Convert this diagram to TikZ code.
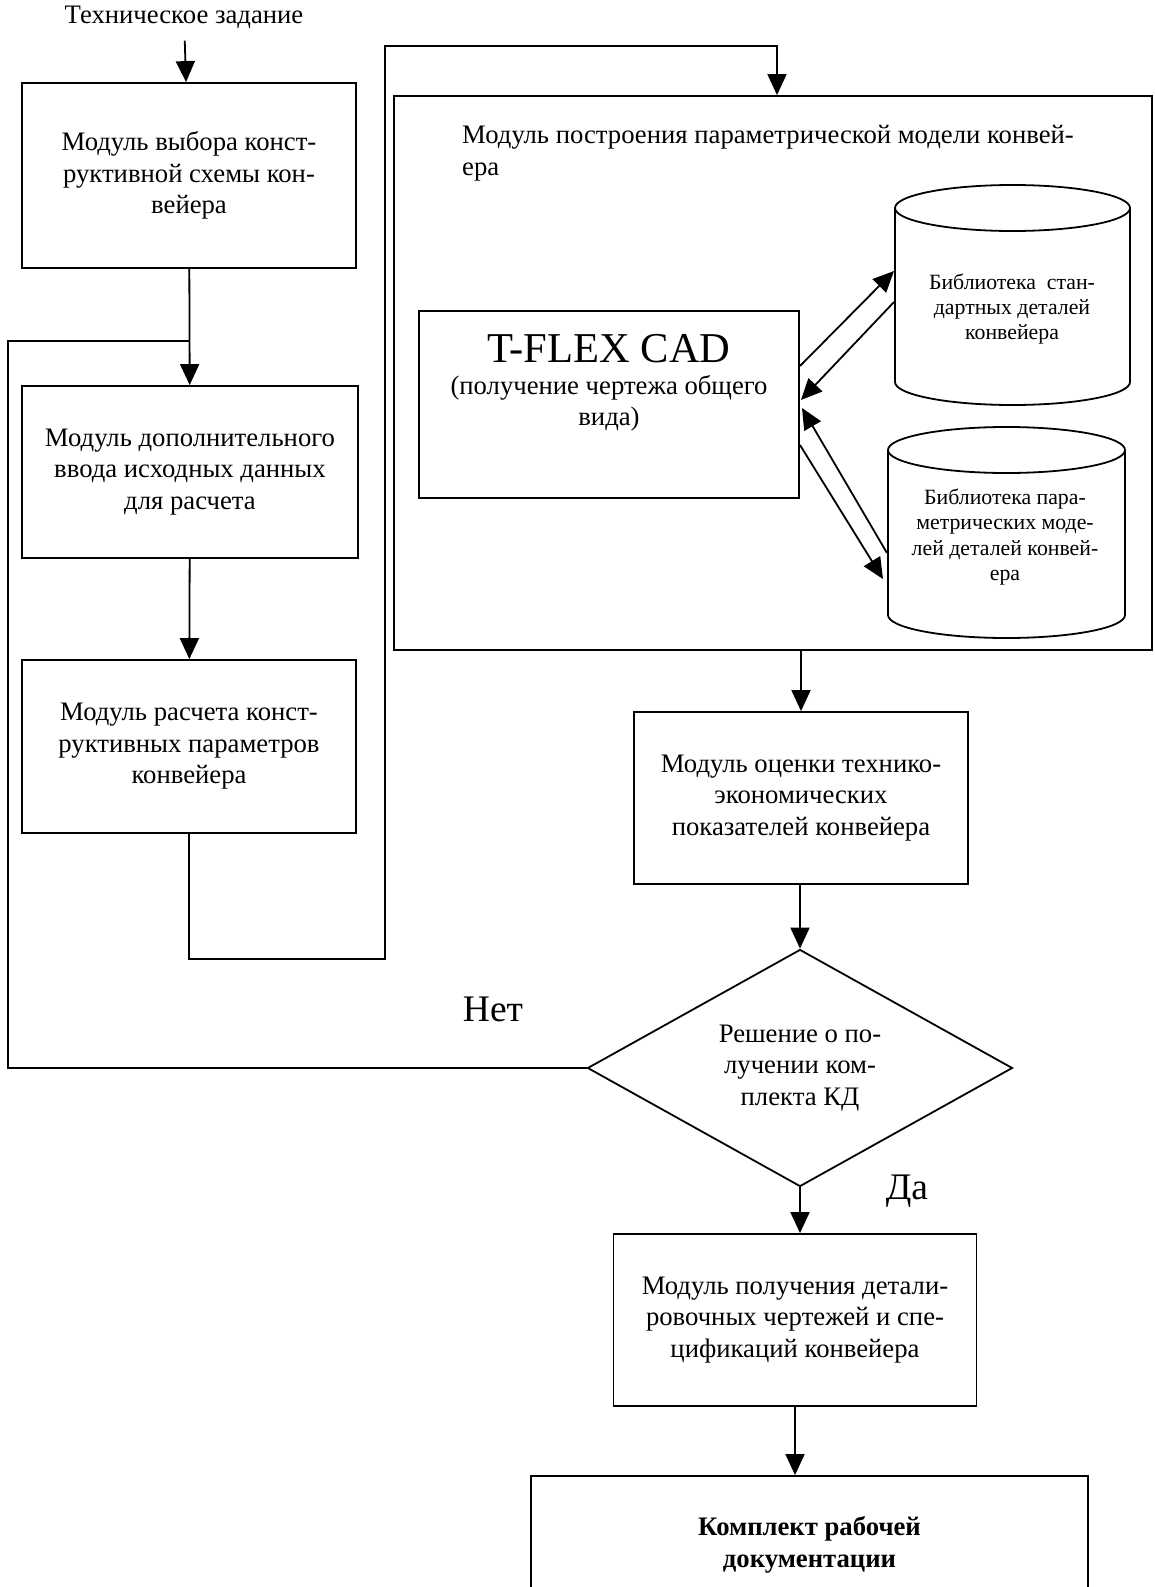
\documentclass[tikz,border=0pt]{standalone}
\usepackage{fontspec}
\setmainfont{Liberation Serif}
\usetikzlibrary{arrows.meta,positioning,calc,shapes.geometric}

\begin{document}
\begin{tikzpicture}[x=1pt, y=-1pt, line width=1.8pt,
  >={Triangle[length=21pt, width=19pt]},
  font=\fontsize{26.7}{31.5}\selectfont,
  box/.style={draw, rectangle, align=center, inner sep=0pt},
  lib/.style={align=center, font=\fontsize{21.8}{25.2}\selectfont},
  answer/.style={font=\fontsize{37.5}{42}\selectfont}]
  \useasboundingbox (0,0) rectangle (1155,1587);
  % left column
  \node (spec) at (184,17) {Техническое задание};
  \node[box, minimum width=334, minimum height=185] (choose) at (189,175.5) {Модуль выбора конст-\\руктивной схемы кон-\\вейера};
  \node[box, minimum width=336, minimum height=172] (input) at (190,472) {Модуль дополнительного\\ввода исходных данных\\для расчета};
  \node[box, minimum width=334, minimum height=173] (calcmod) at (189,746.5) {Модуль расчета конст-\\руктивных параметров\\конвейера};
  % parametric model block
  \node[box, minimum width=758, minimum height=554] (cadmod) at (773,373) {};
  \node[anchor=north west, align=left] (cadtitle) at (458,121) {Модуль построения параметрической модели конвей-\\ера};
  \node[box, minimum width=380, minimum height=187] (tflex) at (609,404.5) {};
  \node[align=center] (tflextext) at (609,383) {{\fontsize{42.5}{44}\selectfont T-FLEX CAD}\\(получение чертежа общего\\вида)};
  % libraries
  \draw (895,208) -- (895,382) arc[start angle=180, end angle=0, x radius=117.5, y radius=23] -- (1130,208);
  \draw (1012.5,208) ellipse[x radius=117.5, y radius=23];
  \node[lib] (stdlib) at (1012,309) {Библиотека~ стан-\\дартных деталей\\конвейера};
  \draw (888,450) -- (888,615) arc[start angle=180, end angle=0, x radius=118.5, y radius=23] -- (1125,450);
  \draw (1006.5,450) ellipse[x radius=118.5, y radius=23];
  \node[lib] (parlib) at (1005,537) {Библиотека пара-\\метрических моде-\\лей деталей конвей-\\ера};
  % links to the libraries
  \coordinate (t1) at (800,366);
  \coordinate (t2) at (801,400);
  \coordinate (t3) at (802,408);
  \coordinate (t4) at (800,445);
  \coordinate (s1) at (894,271);
  \coordinate (s2) at (894,302);
  \coordinate (p1) at (887,553);
  \coordinate (p2) at (883,579);
  \draw[->] (t1) -- (s1);
  \draw[->] (s2) -- (t2);
  \draw[->] (p1) -- (t3);
  \draw[->] (t4) -- (p2);
  % right column
  \node[box, minimum width=334, minimum height=172] (assess) at (801,798) {Модуль оценки технико-\\экономических\\показателей конвейера};
  \node[diamond, draw, aspect=1.8, minimum width=425, minimum height=237, inner sep=0pt, align=center] (decide) at (800,1068) {Решение о по-\\лучении ком-\\плекта КД};
  \node[box, minimum width=363, minimum height=172] (detail) at (795,1320) {Модуль получения детали-\\ровочных чертежей и спе-\\цификаций конвейера};
  \node[box, minimum width=557, minimum height=138, font=\fontsize{26.7}{31.5}\selectfont\bfseries] (docs) at (809.5,1545) {Комплект рабочей\\документации};
  \node[answer] (no) at (493,1009) {Нет};
  \node[answer] (yes) at (907,1191) {Да};
  % flow
  \draw[->, shorten <=8pt] (spec) -- (choose);
  \draw[->] (choose) -- (input);
  \draw[->] (input) -- (calcmod);
  \draw[->] (cadmod.south -| assess.north) -- (assess.north);
  \draw[->] (assess.south -| decide.north) -- (decide.north);
  \draw[->] (decide.south) -- (decide.south |- detail.north);
  \draw[->] (detail.south) -- (detail.south |- docs.north);
  % feedback "no"
  \coordinate (backL) at (8,341);
  \coordinate (backJ) at (189,341);
  \draw (decide.west) -| (backL) -- (backJ);
  % into the model block
  \coordinate (upB) at (385,959);
  \coordinate (upT) at (777,46);
  \draw[->] (calcmod.south) |- (upB) |- (upT) -- (upT |- cadmod.north);
\end{tikzpicture}
\end{document}
